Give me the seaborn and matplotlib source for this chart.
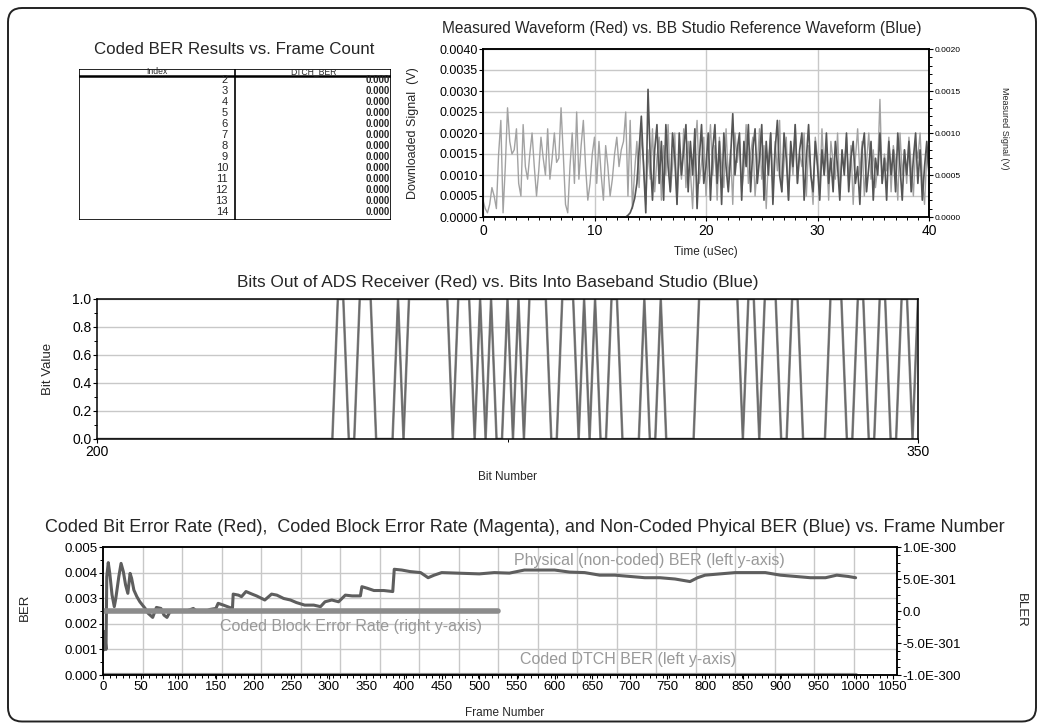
"""
Recreation of an ADS / Baseband Studio results page: coded BER table,
waveform comparison, bit comparison and BER/BLER versus frame number.
"""
import numpy as np
import matplotlib
matplotlib.use("Agg")
import matplotlib.pyplot as plt
import seaborn as sns
from matplotlib.patches import FancyBboxPatch
from matplotlib.ticker import MultipleLocator, FormatStrFormatter, FixedLocator, FixedFormatter

sns.set_theme(style="white")
plt.rcParams['font.family'] = ['Liberation Sans', 'DejaVu Sans']

# ---- table data ----
TABLE_INDEX = [2, 3, 4, 5, 6, 7, 8, 9, 10, 11, 12, 13, 14]
TABLE_DTCH_BER = [0.0, 0.0, 0.0, 0.0, 0.0, 0.0, 0.0, 0.0, 0.0, 0.0, 0.0, 0.0, 0.0]

# ---- waveform data (units of 1e-4 V, sampled every 0.2 uSec) ----
WAVE_DT = 0.2
REF_T0 = 0.0
MEAS_T0 = 12.0
REF_WAVE_E4 = [
    4, 2, 1, 3, 7, 5, 2, 15, 23, 1,
    12, 26, 18, 15, 16, 21, 8, 5, 22, 12,
    9, 15, 20, 12, 5, 11, 19, 14, 10, 21,
    9, 14, 20, 13, 14, 26, 15, 3, 1, 12,
    20, 8, 25, 9, 17, 23, 12, 4, 8, 15,
    19, 8, 18, 10, 4, 17, 12, 5, 9, 15,
    19, 12, 16, 18, 25, 5, 23, 2, 11, 18,
    7, 20, 13, 3, 16, 9, 21, 6, 14, 19,
    4, 17, 10, 22, 6, 12, 20, 3, 15, 9,
    21, 7, 18, 11, 2, 16, 23, 8, 13, 19,
    5, 14, 22, 10, 17, 4, 19, 12, 7, 21,
    9, 16, 3, 20, 13, 18, 6, 11, 22, 8,
    15, 19, 5, 12, 21, 9, 17, 2, 14, 20,
    7, 18, 11, 23, 6, 13, 19, 4, 16, 10,
    22, 8, 15, 12, 20, 5, 17, 11, 3, 19,
    14, 7, 21, 10, 16, 4, 18, 13, 9, 20,
    6, 15, 11, 19, 8, 17, 3, 14, 21, 10,
    18, 5, 13, 20, 9, 16, 7, 12, 28, 8,
    15, 11, 19, 6, 17, 13, 4, 20, 10, 16,
    8, 19, 12, 5, 17, 14, 20, 9, 3, 15,
    11,
]
MEAS_WAVE_E4 = [
    0, 0, 0, 0, 0, 0.2, 0.5, 1.2, 2.2, 4,
    8, 12, 6, 0.5, 15.2, 7, 2, 8, 11, 4,
    9, 2, 11, 6, 3, 10, 7, 1.5, 10, 5,
    8, 11, 3, 9, 5, 10.5, 1, 7, 11, 4,
    6, 10, 2, 8, 11, 4, 9, 1.5, 10, 6,
    3, 7, 12.3, 5, 8, 10, 2, 9, 6, 11,
    3, 8, 10.5, 4, 7, 11, 2, 9, 5, 10,
    1.5, 8, 11.5, 5, 3, 10, 7, 2, 9, 6,
    11, 4, 8, 10, 2, 7, 11, 5, 3, 9,
    6, 2, 8, 5, 10, 4, 7, 3, 9, 6,
    2, 8, 5, 10, 3, 7, 9, 4, 6, 1.5,
    8, 10, 3, 6, 9, 2, 7, 5, 10, 4,
    7, 2, 9, 5, 8, 3, 10, 6, 2, 8,
    5, 9, 3, 7, 10, 4, 8, 2, 6, 9,
    5,
]

# ---- bit comparison data (bits 200..350) ----
BIT_START = 200
BITS_STR = ("0" * 44 + "11" "00" "111" "0000" "1" "0" "11111111" "0" "111" "0" "1" "0" "1"
            "00" "1" "0" "1" "0" "1111" "00" "111" "0" "1" "0" "1" "00" "11" "0000" "1"
            "00" "1" "000000" "11111111" "0" "11" "0" "111" "00" "11" "00000" "111" "00"
            "11" "00" "11" "00" "11" "0" "1")
BITS_RX = [int(c) for c in BITS_STR]
BITS_BB = [int(c) for c in BITS_STR]

# ---- BER vs frame data ----
PHYS_FRAMES = [1, 2, 4, 5, 7, 9, 12, 15, 17, 21, 24, 27, 30, 33, 36, 38, 41, 45, 49, 56,
               60, 66, 71, 77, 81, 85, 89, 100, 111, 120, 124, 136, 142, 150, 153, 160, 169, 172, 173, 180,
               184, 190, 198, 204, 215, 224, 231, 240, 249, 257, 268, 280, 289, 295, 304, 313, 322, 331, 342, 344,
               351, 360, 373, 385, 387, 397, 408, 422, 432, 440, 450, 470, 500, 520, 540, 560, 580, 600, 620, 640,
               660, 680, 700, 720, 740, 760, 780, 790, 800, 820, 840, 860, 880, 900, 920, 940, 960, 975, 990, 1000]
PHYS_BER = [0.00098, 0.0017, 0.0010, 0.00384, 0.00439, 0.00397, 0.00313, 0.00267, 0.00299, 0.00384,
            0.00436, 0.00404, 0.00352, 0.00319, 0.00397, 0.00378, 0.00332, 0.00306, 0.00286, 0.00260,
            0.00241, 0.00225, 0.00264, 0.0026, 0.00234, 0.00225, 0.00247, 0.0025, 0.0025, 0.0026,
            0.0025, 0.00248, 0.00256, 0.0026, 0.0028, 0.00273, 0.00263, 0.0026, 0.00316, 0.00312,
            0.00306, 0.00326, 0.00316, 0.00309, 0.00293, 0.00316, 0.00312, 0.00299, 0.00293, 0.00283,
            0.00273, 0.00273, 0.00267, 0.00286, 0.00293, 0.00286, 0.00312, 0.00309, 0.00309, 0.00345,
            0.00339, 0.0033, 0.0033, 0.00326, 0.00413, 0.0041, 0.00404, 0.0040, 0.0038, 0.0039,
            0.0040, 0.00398, 0.00395, 0.0040, 0.00398, 0.0041, 0.0041, 0.0041, 0.00402, 0.0040,
            0.0039, 0.0039, 0.00385, 0.0038, 0.0038, 0.00375, 0.00365, 0.0038, 0.0039, 0.00395,
            0.0040, 0.0040, 0.0040, 0.0039, 0.00385, 0.0038, 0.0038, 0.0039, 0.00385, 0.0038]
CODED_BER_FRAMES = [1, 1000]
CODED_BER = [0.0, 0.0]
BLER_FRAMES = [1, 525]
BLER_E300 = [0.0, 0.0]          # right axis in units of 1E-300
BLER_TICKS = [-1.0, -0.5, 0.0, 0.5, 1.0]
BLER_TICK_LABELS = ["-1.0E-300", "-5.0E-301", "0.0", "5.0E-301", "1.0E-300"]

W, H = 1043, 723
GRID = "#c8c8c8"
NOTE = "#999999"


def box(x0, y0, x1, y1):
    return [x0 / W, 1 - y1 / H, (x1 - x0) / W, (y1 - y0) / H]


def ftext(fig, x, y, s, **kw):
    kw.setdefault("ha", "center")
    kw.setdefault("va", "center")
    fig.text(x / W, 1 - y / H, s, **kw)


def style_axes(ax):
    for sp in ax.spines.values():
        sp.set_visible(True)
        sp.set_color("black")
        sp.set_linewidth(1.1)
    ax.tick_params(which="both", direction="out", colors="black", left=True, bottom=True)
    ax.tick_params(which="major", length=3, width=0.8)
    ax.tick_params(which="minor", length=2, width=0.7)
    ax.set_xlabel("")
    ax.set_ylabel("")


fig = plt.figure(figsize=(W / 100, H / 100), dpi=100)

# page border
bg = fig.add_axes([0, 0, 1, 1], zorder=-5)
bg.set_xlim(0, W)
bg.set_ylim(H, 0)
bg.axis("off")
bg.add_patch(FancyBboxPatch((8, 8), 1028, 713.5, boxstyle="round,pad=0,rounding_size=14",
                            fill=False, ec="#222222", lw=1.4))

# ---- table ----
ftext(fig, 234, 50, "Coded BER Results vs. Frame Count", fontsize=12.2)
axt = fig.add_axes(box(79, 69, 391, 220))
axt.set_xlim(0, 312)
axt.set_ylim(151, 0)
axt.axis("off")
axt.plot([0, 312, 312, 0, 0], [0, 0, 151, 151, 0], color="black", lw=1.2)
axt.plot([0, 312], [6.5, 6.5], color="black", lw=1.8)
axt.plot([156, 156], [0, 151], color="black", lw=1.2)
axt.text(78, 3.0, "Index", fontsize=6.2, ha="center", va="center")
axt.text(234, 3.0, "DTCH_BER", fontsize=6.2, ha="center", va="center")
for i, (idx, val) in enumerate(zip(TABLE_INDEX, TABLE_DTCH_BER)):
    yy = 11 + i * 11
    axt.text(149, yy, str(idx), fontsize=8, ha="right", va="center")
    axt.text(311, yy, f"{val:.3f}", fontsize=7, ha="right", va="center", fontweight="bold")

# ---- waveform ----
axw = fig.add_axes(box(483, 49, 929, 217))
ref_t = REF_T0 + WAVE_DT * np.arange(len(REF_WAVE_E4))
meas_t = MEAS_T0 + WAVE_DT * np.arange(len(MEAS_WAVE_E4))
sns.lineplot(x=ref_t, y=np.array(REF_WAVE_E4) * 1e-4, ax=axw, color="#a2a2a2", linewidth=1.0)
axw2 = axw.twinx()
sns.lineplot(x=meas_t, y=np.array(MEAS_WAVE_E4) * 1e-4, ax=axw2, color="#555555", linewidth=1.2)
axw.set_xlim(0, 40)
axw.set_ylim(0, 0.004)
axw2.set_ylim(0, 0.002)
axw.xaxis.set_major_locator(MultipleLocator(10))
axw.xaxis.set_minor_locator(MultipleLocator(1))
axw.yaxis.set_major_locator(MultipleLocator(0.0005))
axw.yaxis.set_major_formatter(FormatStrFormatter("%.4f"))
axw2.yaxis.set_major_locator(MultipleLocator(0.0005))
axw2.yaxis.set_minor_locator(MultipleLocator(0.0001))
axw2.yaxis.set_major_formatter(FormatStrFormatter("%.4f"))
axw.grid(True, which="major", color=GRID, lw=1.0)
axw.set_axisbelow(True)
style_axes(axw)
style_axes(axw2)
axw2.tick_params(which="both", right=True, left=False, labelsize=6, pad=1)
axw.tick_params(axis="y", labelsize=9, pad=1)
axw.tick_params(axis="x", labelsize=10, pad=2)
ftext(fig, 682, 29, "Measured Waveform (Red) vs. BB Studio Reference Waveform (Blue)", fontsize=11.2)
ftext(fig, 706, 252, "Time (uSec)", fontsize=8.5)
ftext(fig, 413, 133, "Downloaded Signal  (V)", fontsize=9, rotation=90)
ftext(fig, 1004, 128, "Measured Signal (V)", fontsize=6.5, rotation=-90)

# ---- bits ----
axb = fig.add_axes(box(97, 299, 918, 439))
bit_n = BIT_START + np.arange(len(BITS_RX))
sns.lineplot(x=bit_n, y=BITS_BB, ax=axb, color="#8a8a8a", linewidth=1.8)
sns.lineplot(x=bit_n, y=BITS_RX, ax=axb, color="#6a6a6a", linewidth=1.0)
axb.set_xlim(200, 350)
axb.set_ylim(0, 1)
axb.xaxis.set_major_locator(FixedLocator([200, 350]))
axb.xaxis.set_minor_locator(FixedLocator([275]))
axb.yaxis.set_major_locator(MultipleLocator(0.2))
axb.yaxis.set_minor_locator(MultipleLocator(0.1))
axb.yaxis.set_major_formatter(FormatStrFormatter("%.1f"))
axb.grid(True, axis="y", which="major", color=GRID, lw=1.0)
axb.set_axisbelow(True)
style_axes(axb)
axb.tick_params(labelsize=10, pad=1)
ftext(fig, 498, 283, "Bits Out of ADS Receiver (Red) vs. Bits Into Baseband Studio (Blue)", fontsize=12.4)
ftext(fig, 508, 477, "Bit Number", fontsize=8.5)
ftext(fig, 48, 369, "Bit Value", fontsize=9.5, rotation=90)

# ---- BER vs frame ----
axe = fig.add_axes(box(103, 547, 897, 675))
for gx in np.arange(52.5, 1050, 52.5):
    axe.axvline(gx, color=GRID, lw=1.0, zorder=0)
for gy in [0.001, 0.002, 0.003, 0.004]:
    axe.axhline(gy, color=GRID, lw=1.0, zorder=0)
sns.lineplot(x=CODED_BER_FRAMES, y=CODED_BER, ax=axe, color="#8c8c8c", linewidth=3)
sns.lineplot(x=PHYS_FRAMES, y=PHYS_BER, ax=axe, color="#5e5e5e", linewidth=2.2)
axe2 = axe.twinx()
sns.lineplot(x=BLER_FRAMES, y=BLER_E300, ax=axe2, color="#8c8c8c", linewidth=4)
axe.set_xlim(0, 1055)
axe.set_ylim(0, 0.005)
axe2.set_ylim(-1, 1)
axe.xaxis.set_major_locator(MultipleLocator(50))
axe.xaxis.set_minor_locator(MultipleLocator(8.75))
axe.yaxis.set_major_locator(MultipleLocator(0.001))
axe.yaxis.set_minor_locator(MultipleLocator(0.0005))
axe.yaxis.set_major_formatter(FormatStrFormatter("%.3f"))
axe2.yaxis.set_major_locator(FixedLocator(BLER_TICKS))
axe2.yaxis.set_major_formatter(FixedFormatter(BLER_TICK_LABELS))
axe2.yaxis.set_minor_locator(MultipleLocator(0.125))
style_axes(axe)
style_axes(axe2)
axe2.tick_params(which="both", right=True, left=False, labelsize=9.5, pad=1)
axe.tick_params(labelsize=9.5, pad=1)
axe.text(726, 0.00449, "Physical (non-coded) BER (left y-axis)", fontsize=11.5, color=NOTE,
         ha="center", va="center")
axe.text(330, 0.00191, "Coded Block Error Rate (right y-axis)", fontsize=11.5, color=NOTE,
         ha="center", va="center")
axe.text(697, 0.00059, "Coded DTCH BER (left y-axis)", fontsize=11.5, color=NOTE,
         ha="center", va="center")
ftext(fig, 525, 527, "Coded Bit Error Rate (Red),  Coded Block Error Rate (Magenta), and "
      "Non-Coded Phyical BER (Blue) vs. Frame Number", fontsize=13)
ftext(fig, 505, 713, "Frame Number", fontsize=8.5)
ftext(fig, 25, 607, "BER", fontsize=9.5, rotation=90)
ftext(fig, 1021, 610, "BLER", fontsize=9.5, rotation=-90)

fig.savefig("out.png", dpi=100)
plt.close(fig)
